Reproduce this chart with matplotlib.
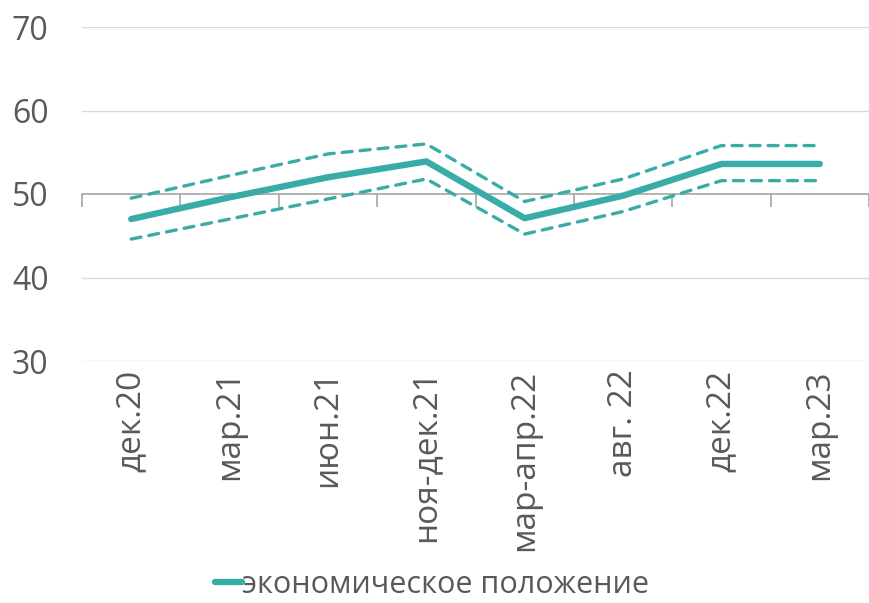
import matplotlib
matplotlib.use("Agg")
import matplotlib.pyplot as plt

categories = ["дек.20", "мар.21", "июн.21", "ноя-дек.21", "мар-апр.22", "авг. 22", "дек.22", "мар.23"]
main_values = [47.0, 49.6, 52.0, 53.9, 47.1, 49.8, 53.6, 53.6]
upper_values = [49.5, 52.2, 54.8, 56.0, 49.1, 51.8, 55.8, 55.8]
lower_values = [44.6, 47.0, 49.4, 51.8, 45.2, 47.9, 51.6, 51.6]
series_label = "экономическое положение"
y_ticks = [30, 40, 50, 60, 70]

color = "#3aaca7"
text_color = "#595959"
plt.rcParams['font.family'] = ['Open Sans', 'DejaVu Sans']

fig = plt.figure(figsize=(8.69, 6.03), dpi=100)
ax = fig.add_axes([82/869, (603-361)/603, 787/869, 334/603])

x = list(range(len(categories)))
ax.plot(x, main_values, color=color, lw=4.6, solid_capstyle='round', label=series_label, zorder=4)
ax.plot(x, upper_values, color=color, lw=2.4, dashes=(3.0, 2.4), dash_capstyle='round', zorder=3)
ax.plot(x, lower_values, color=color, lw=2.4, dashes=(3.0, 2.4), dash_capstyle='round', zorder=3)

ax.set_xlim(-0.5, len(categories) - 0.5)
ax.set_ylim(30, 70)
ax.set_yticks(y_ticks)
ax.tick_params(axis='y', length=0, pad=24, labelsize=23, labelcolor=text_color)
for yv in y_ticks:
    if yv != 50:
        ax.axhline(yv, color='#d9d9d9', lw=1.0, zorder=1)

for s in ['top', 'right', 'left']:
    ax.spines[s].set_visible(False)
ax.spines['bottom'].set_position(('data', 50))
ax.spines['bottom'].set_color('#a6a6a6')
ax.spines['bottom'].set_linewidth(1.2)
ax.set_xticks([i - 0.5 for i in range(len(categories) + 1)])
ax.set_xticklabels([])
ax.tick_params(axis='x', direction='out', length=9, width=1.2, color='#a6a6a6')

sec = ax.secondary_xaxis('bottom')
sec.set_xticks(x)
sec.set_xticklabels(categories, rotation=90, fontsize=24, color=text_color, va='top', ha='center')
sec.tick_params(length=0, pad=6)
sec.spines['bottom'].set_visible(False)

leg = fig.legend(loc='lower center', bbox_to_anchor=(0.497, -0.04), frameon=False,
                 fontsize=22, handlelength=0.9, handletextpad=0.0, labelcolor=text_color)

fig.savefig("out.png", dpi=100)
